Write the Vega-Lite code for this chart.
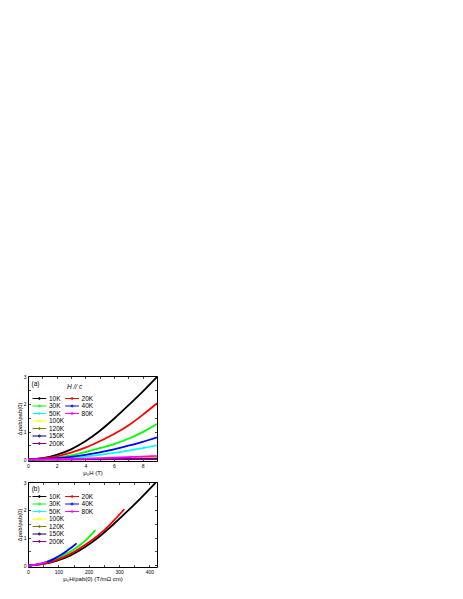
{
  "$schema": "https://vega.github.io/schema/vega-lite/v6.json",
  "background": "white",
  "padding": {"left": 15, "top": 373, "right": 5, "bottom": 5},
  "datasets": {
    "mr": [
      {"T":"10K","H":0,"HK":0,"dr":0},{"T":"10K","H":1,"HK":46.7,"dr":0.04},{"T":"10K","H":2,"HK":93.3,"dr":0.16},{"T":"10K","H":3,"HK":140,"dr":0.36},{"T":"10K","H":4,"HK":186.7,"dr":0.65},{"T":"10K","H":5,"HK":233.3,"dr":1.02},{"T":"10K","H":6,"HK":280,"dr":1.46},{"T":"10K","H":7,"HK":326.7,"dr":1.94},{"T":"10K","H":8,"HK":373.3,"dr":2.44},{"T":"10K","H":9,"HK":420,"dr":2.97},
      {"T":"20K","H":0,"HK":0,"dr":0},{"T":"20K","H":1,"HK":35.2,"dr":0.03},{"T":"20K","H":2,"HK":70.4,"dr":0.11},{"T":"20K","H":3,"HK":105.7,"dr":0.24},{"T":"20K","H":4,"HK":140.9,"dr":0.42},{"T":"20K","H":5,"HK":176.1,"dr":0.65},{"T":"20K","H":6,"HK":211.3,"dr":0.91},{"T":"20K","H":7,"HK":246.6,"dr":1.22},{"T":"20K","H":8,"HK":281.8,"dr":1.6},{"T":"20K","H":9,"HK":317,"dr":2.02},
      {"T":"30K","H":0,"HK":0,"dr":0},{"T":"30K","H":1,"HK":24.7,"dr":0.015},{"T":"30K","H":2,"HK":49.3,"dr":0.06},{"T":"30K","H":3,"HK":74,"dr":0.14},{"T":"30K","H":4,"HK":98.7,"dr":0.26},{"T":"30K","H":5,"HK":123.3,"dr":0.4},{"T":"30K","H":6,"HK":148,"dr":0.55},{"T":"30K","H":7,"HK":172.7,"dr":0.74},{"T":"30K","H":8,"HK":197.3,"dr":0.98},{"T":"30K","H":9,"HK":222,"dr":1.27},
      {"T":"40K","H":0,"HK":0,"dr":0},{"T":"40K","H":1,"HK":17.8,"dr":0.01},{"T":"40K","H":2,"HK":35.6,"dr":0.04},{"T":"40K","H":3,"HK":53.3,"dr":0.09},{"T":"40K","H":4,"HK":71.1,"dr":0.16},{"T":"40K","H":5,"HK":88.9,"dr":0.25},{"T":"40K","H":6,"HK":106.7,"dr":0.36},{"T":"40K","H":7,"HK":124.4,"dr":0.49},{"T":"40K","H":8,"HK":142.2,"dr":0.63},{"T":"40K","H":9,"HK":160,"dr":0.79},
      {"T":"50K","H":0,"HK":0,"dr":0},{"T":"50K","H":1,"HK":13.9,"dr":0.006},{"T":"50K","H":2,"HK":27.8,"dr":0.025},{"T":"50K","H":3,"HK":41.7,"dr":0.055},{"T":"50K","H":4,"HK":55.6,"dr":0.1},{"T":"50K","H":5,"HK":69.4,"dr":0.16},{"T":"50K","H":6,"HK":83.3,"dr":0.23},{"T":"50K","H":7,"HK":97.2,"dr":0.31},{"T":"50K","H":8,"HK":111.1,"dr":0.4},{"T":"50K","H":9,"HK":125,"dr":0.5},
      {"T":"80K","H":0,"HK":0,"dr":0},{"T":"80K","H":1,"HK":6.9,"dr":0.002},{"T":"80K","H":2,"HK":13.8,"dr":0.007},{"T":"80K","H":3,"HK":20.7,"dr":0.015},{"T":"80K","H":4,"HK":27.6,"dr":0.027},{"T":"80K","H":5,"HK":34.4,"dr":0.042},{"T":"80K","H":6,"HK":41.3,"dr":0.06},{"T":"80K","H":7,"HK":48.2,"dr":0.08},{"T":"80K","H":8,"HK":55.1,"dr":0.1},{"T":"80K","H":9,"HK":62,"dr":0.125},
      {"T":"100K","H":0,"HK":0,"dr":0},{"T":"100K","H":1,"HK":5.3,"dr":0.001},{"T":"100K","H":2,"HK":10.7,"dr":0.003},{"T":"100K","H":3,"HK":16,"dr":0.007},{"T":"100K","H":4,"HK":21.3,"dr":0.012},{"T":"100K","H":5,"HK":26.7,"dr":0.019},{"T":"100K","H":6,"HK":32,"dr":0.028},{"T":"100K","H":7,"HK":37.3,"dr":0.037},{"T":"100K","H":8,"HK":42.7,"dr":0.048},{"T":"100K","H":9,"HK":48,"dr":0.06},
      {"T":"120K","H":0,"HK":0,"dr":0},{"T":"120K","H":1,"HK":4.2,"dr":0.0005},{"T":"120K","H":2,"HK":8.4,"dr":0.002},{"T":"120K","H":3,"HK":12.7,"dr":0.004},{"T":"120K","H":4,"HK":16.9,"dr":0.007},{"T":"120K","H":5,"HK":21.1,"dr":0.011},{"T":"120K","H":6,"HK":25.3,"dr":0.016},{"T":"120K","H":7,"HK":29.6,"dr":0.021},{"T":"120K","H":8,"HK":33.8,"dr":0.028},{"T":"120K","H":9,"HK":38,"dr":0.035},
      {"T":"150K","H":0,"HK":0,"dr":0},{"T":"150K","H":1,"HK":3.3,"dr":0.0003},{"T":"150K","H":2,"HK":6.7,"dr":0.001},{"T":"150K","H":3,"HK":10,"dr":0.002},{"T":"150K","H":4,"HK":13.3,"dr":0.004},{"T":"150K","H":5,"HK":16.7,"dr":0.006},{"T":"150K","H":6,"HK":20,"dr":0.009},{"T":"150K","H":7,"HK":23.3,"dr":0.012},{"T":"150K","H":8,"HK":26.7,"dr":0.016},{"T":"150K","H":9,"HK":30,"dr":0.02},
      {"T":"200K","H":0,"HK":0,"dr":0},{"T":"200K","H":1,"HK":2.4,"dr":0.0001},{"T":"200K","H":2,"HK":4.9,"dr":0.0005},{"T":"200K","H":3,"HK":7.3,"dr":0.001},{"T":"200K","H":4,"HK":9.8,"dr":0.002},{"T":"200K","H":5,"HK":12.2,"dr":0.003},{"T":"200K","H":6,"HK":14.7,"dr":0.0045},{"T":"200K","H":7,"HK":17.1,"dr":0.006},{"T":"200K","H":8,"HK":19.6,"dr":0.008},{"T":"200K","H":9,"HK":22,"dr":0.01}
    ]
  },
  "vconcat": [
    {
      "width": 129, "height": 85,
      "data": {"name": "mr"},
      "layer": [
        {
          "transform": [{"filter": {"field": "T", "oneOf": ["10K","30K","50K","100K","120K","150K","200K"]}}],
          "mark": {"type": "line", "strokeWidth": 1.8, "interpolate": "monotone", "clip": true},
          "encoding": {
            "x": {"field": "H", "type": "quantitative", "scale": {"domain": [0, 9], "nice": false}, "axis": {"orient": "bottom", "values": [0,1,2,3,4,5,6,7,8], "labelExpr": "datum.value % 2 ? '' : format(datum.value, 'd')", "title": "μ₀H (T)"}},
            "y": {"field": "dr", "type": "quantitative", "scale": {"domain": [-0.06, 3], "nice": false}, "axis": {"orient": "left", "values": [0,0.5,1,1.5,2,2.5,3], "labelExpr": "datum.value % 1 ? '' : format(datum.value, 'd')", "title": "Δρab/ρab(0)"}},
            "color": {"field": "T", "type": "nominal",
              "scale": {"domain": ["10K","30K","50K","100K","120K","150K","200K"], "range": ["#000000","#00ff00","#00ffff","#ffff00","#808000","#000080","#800080"]},
              "legend": {"orient": "none", "legendX": 7.9, "legendY": 19}}
          }
        },
        {
          "transform": [{"filter": {"field": "T", "oneOf": ["20K","40K","80K"]}}],
          "mark": {"type": "line", "strokeWidth": 1.8, "interpolate": "monotone", "clip": true},
          "encoding": {
            "x": {"field": "H", "type": "quantitative", "axis": {"orient": "top", "values": [0,1,2,3,4,5,6,7,8], "labels": false, "title": null}},
            "y": {"field": "dr", "type": "quantitative", "axis": {"orient": "right", "values": [0,0.5,1,1.5,2,2.5,3], "labels": false, "title": null}},
            "color": {"field": "T", "type": "nominal",
              "scale": {"domain": ["20K","40K","80K"], "range": ["#ff0000","#0000ff","#ff00ff"]},
              "legend": {"orient": "none", "legendX": 40.6, "legendY": 19}}
          }
        },
        {
          "data": {"values": [{"t": "(a)"}]},
          "mark": {"type": "text", "align": "left", "baseline": "middle", "fontSize": 6.5},
          "encoding": {"x": {"datum": 0.25, "type": "quantitative", "axis": null}, "y": {"datum": 2.72, "type": "quantitative", "axis": null}, "text": {"field": "t"}}
        },
        {
          "data": {"values": [{"t": "H // c"}]},
          "mark": {"type": "text", "align": "center", "baseline": "middle", "fontSize": 6.5, "fontStyle": "italic"},
          "encoding": {"x": {"datum": 3.25, "type": "quantitative", "axis": null}, "y": {"datum": 2.6, "type": "quantitative", "axis": null}, "text": {"field": "t"}}
        }
      ],
      "resolve": {"scale": {"color": "independent"}}
    },
    {
      "width": 129, "height": 85,
      "data": {"name": "mr"},
      "layer": [
        {
          "transform": [{"filter": {"field": "T", "oneOf": ["10K","30K","50K","100K","120K","150K","200K"]}}],
          "mark": {"type": "line", "strokeWidth": 1.8, "interpolate": "monotone", "clip": true},
          "encoding": {
            "x": {"field": "HK", "type": "quantitative", "scale": {"domain": [0, 425], "nice": false}, "axis": {"orient": "bottom", "values": [0,50,100,150,200,250,300,350,400], "labelExpr": "datum.value % 100 ? '' : format(datum.value, 'd')", "title": "μ₀H/ρab(0)  (T/mΩ cm)"}},
            "y": {"field": "dr", "type": "quantitative", "scale": {"domain": [-0.06, 3], "nice": false}, "axis": {"orient": "left", "values": [0,0.5,1,1.5,2,2.5,3], "labelExpr": "datum.value % 1 ? '' : format(datum.value, 'd')", "title": "Δρab/ρab(0)"}},
            "color": {"field": "T", "type": "nominal",
              "scale": {"domain": ["10K","30K","50K","100K","120K","150K","200K"], "range": ["#000000","#00ff00","#00ffff","#ffff00","#808000","#000080","#800080"]},
              "legend": {"orient": "none", "legendX": 7.9, "legendY": 11}}
          }
        },
        {
          "transform": [{"filter": {"field": "T", "oneOf": ["20K","40K","80K"]}}],
          "mark": {"type": "line", "strokeWidth": 1.8, "interpolate": "monotone", "clip": true},
          "encoding": {
            "x": {"field": "HK", "type": "quantitative", "axis": {"orient": "top", "values": [0,50,100,150,200,250,300,350,400], "labels": false, "title": null}},
            "y": {"field": "dr", "type": "quantitative", "axis": {"orient": "right", "values": [0,0.5,1,1.5,2,2.5,3], "labels": false, "title": null}},
            "color": {"field": "T", "type": "nominal",
              "scale": {"domain": ["20K","40K","80K"], "range": ["#ff0000","#0000ff","#ff00ff"]},
              "legend": {"orient": "none", "legendX": 40.6, "legendY": 11}}
          }
        },
        {
          "data": {"values": [{"t": "(b)"}]},
          "mark": {"type": "text", "align": "left", "baseline": "middle", "fontSize": 6.5},
          "encoding": {"x": {"datum": 12, "type": "quantitative", "axis": null}, "y": {"datum": 2.75, "type": "quantitative", "axis": null}, "text": {"field": "t"}}
        }
      ],
      "resolve": {"scale": {"color": "independent"}}
    }
  ],
  "spacing": 3,
  "config": {
    "font": "Liberation Sans",
    "view": {"stroke": "black", "strokeWidth": 1},
    "axis": {"domain": false, "grid": false, "labelFontSize": 5, "titleFontSize": 6, "titleFontWeight": "normal", "tickColor": "black", "tickSize": -2.5, "tickWidth": 0.7, "labelColor": "black", "titleColor": "black", "labelPadding": 4.5, "titlePadding": 1, "labelOverlap": false, "labelFlush": false, "labelBound": false},
    "legend": {"title": null, "padding": 0, "labelFontSize": 6.5, "labelColor": "black", "symbolType": "M-2.3,0H2.3M-0.33,0A0.33,0.33 0 1,0 0.33,0A0.33,0.33 0 1,0 -0.33,0", "symbolSize": 36, "symbolStrokeWidth": 1, "labelOffset": 6, "rowPadding": 0.5, "symbolFillColor": "transparent"}
  }
}
